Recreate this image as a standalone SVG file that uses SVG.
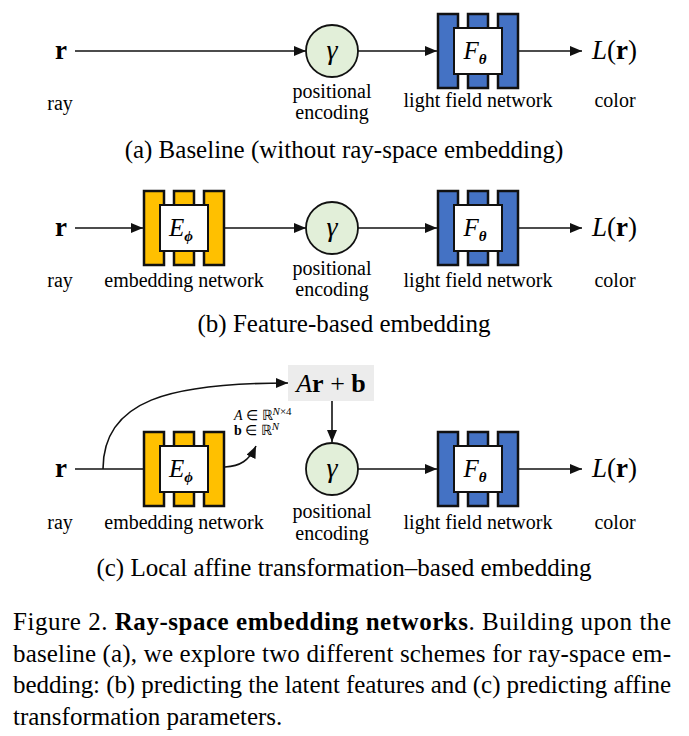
<svg xmlns="http://www.w3.org/2000/svg" width="689" height="736" viewBox="0 0 689 736" font-family="Liberation Serif, serif">
<defs>
<style>
.lab{font-size:20px;text-anchor:middle}
.cap{font-size:25px;text-anchor:middle}
.sym{font-size:27px}
.fig{font-size:25px}
.ln{stroke:#111;stroke-width:1.6;fill:none}
.bar-b{fill:#4472c4;stroke:#111;stroke-width:2.5}
.bar-y{fill:#ffc000;stroke:#111;stroke-width:2.5}
.inner{fill:#fff;stroke:#111;stroke-width:2}
.pe{fill:#e2efd9;stroke:#111;stroke-width:1.8}
</style>
<marker id="ah" viewBox="0 0 12 10" refX="12" refY="5" markerWidth="12" markerHeight="10" markerUnits="userSpaceOnUse" orient="auto">
<path d="M0,0 L12,5 L0,10 Z" fill="#111"/>
</marker>
</defs>
<rect width="689" height="736" fill="#fff"/>

<!-- connectors -->
<g id="connectors">
<line class="ln" x1="75" y1="51" x2="306" y2="51" marker-end="url(#ah)"/>
<line class="ln" x1="358" y1="51" x2="437" y2="51" marker-end="url(#ah)"/>
<line class="ln" x1="518" y1="51" x2="582" y2="51" marker-end="url(#ah)"/>

<line class="ln" x1="75" y1="228" x2="143" y2="228" marker-end="url(#ah)"/>
<line class="ln" x1="224" y1="228" x2="306" y2="228" marker-end="url(#ah)"/>
<line class="ln" x1="358" y1="228" x2="437" y2="228" marker-end="url(#ah)"/>
<line class="ln" x1="518" y1="228" x2="582" y2="228" marker-end="url(#ah)"/>

<line class="ln" x1="75" y1="469" x2="144" y2="469"/>
<path class="ln" d="M103,469 C103,400 170,383 288,383" marker-end="url(#ah)"/>
<path class="ln" d="M225,467 C240,466 249,461 256,446" marker-end="url(#ah)"/>
<line class="ln" x1="332" y1="401" x2="332" y2="442" marker-end="url(#ah)"/>
<line class="ln" x1="358" y1="469" x2="437" y2="469" marker-end="url(#ah)"/>
<line class="ln" x1="518" y1="469" x2="582" y2="469" marker-end="url(#ah)"/>
</g>

<!-- panel a -->
<g id="a-ray">
<text class="sym" x="61" y="59" text-anchor="middle" font-weight="bold">r</text>
<text class="lab" x="60" y="110">ray</text>
</g>
<g id="a-pe">
<circle class="pe" cx="332" cy="51" r="26"/>
<text x="332" y="59" text-anchor="middle" font-size="28" font-style="italic">γ</text>
<text class="lab" x="332" y="98">positional</text>
<text class="lab" x="332" y="119">encoding</text>
</g>
<g id="a-lfn">
<rect class="bar-b" x="438" y="14" width="20" height="74"/>
<rect class="bar-b" x="468" y="14" width="20" height="74"/>
<rect class="bar-b" x="498" y="14" width="20" height="74"/>
<rect class="inner" x="454" y="28" width="48" height="46"/>
<text x="475" y="59" text-anchor="middle" font-size="25" font-style="italic">F<tspan font-size="15" font-weight="bold" dy="5">θ</tspan></text>
<text class="lab" x="478" y="107">light field network</text>
</g>
<g id="a-color">
<text class="sym" x="592" y="59"><tspan font-style="italic">L</tspan>(<tspan font-weight="bold">r</tspan>)</text>
<text class="lab" x="615" y="107">color</text>
</g>
<text class="cap" x="344" y="158">(a) Baseline (without ray-space embedding)</text>

<!-- panel b -->
<g id="b-ray">
<text class="sym" x="61" y="236" text-anchor="middle" font-weight="bold">r</text>
<text class="lab" x="60" y="287">ray</text>
</g>
<g id="b-emb">
<rect class="bar-y" x="144" y="191" width="20" height="74"/>
<rect class="bar-y" x="174" y="191" width="20" height="74"/>
<rect class="bar-y" x="204" y="191" width="20" height="74"/>
<rect class="inner" x="160" y="205" width="48" height="46"/>
<text x="181" y="236" text-anchor="middle" font-size="25" font-style="italic">E<tspan font-size="15" font-weight="bold" font-style="italic" dy="5">ϕ</tspan></text>
<text class="lab" x="184" y="287">embedding network</text>
</g>
<g id="b-pe">
<circle class="pe" cx="332" cy="228" r="26"/>
<text x="332" y="236" text-anchor="middle" font-size="28" font-style="italic">γ</text>
<text class="lab" x="332" y="275">positional</text>
<text class="lab" x="332" y="296">encoding</text>
</g>
<g id="b-lfn">
<rect class="bar-b" x="438" y="191" width="20" height="74"/>
<rect class="bar-b" x="468" y="191" width="20" height="74"/>
<rect class="bar-b" x="498" y="191" width="20" height="74"/>
<rect class="inner" x="454" y="205" width="48" height="46"/>
<text x="475" y="236" text-anchor="middle" font-size="25" font-style="italic">F<tspan font-size="15" font-weight="bold" dy="5">θ</tspan></text>
<text class="lab" x="478" y="287">light field network</text>
</g>
<g id="b-color">
<text class="sym" x="592" y="236"><tspan font-style="italic">L</tspan>(<tspan font-weight="bold">r</tspan>)</text>
<text class="lab" x="615" y="287">color</text>
</g>
<text class="cap" x="344" y="332">(b) Feature-based embedding</text>

<!-- panel c -->
<g id="c-ray">
<text class="sym" x="61" y="477" text-anchor="middle" font-weight="bold">r</text>
<text class="lab" x="60" y="529">ray</text>
</g>
<g id="c-emb">
<rect class="bar-y" x="144" y="432" width="20" height="74"/>
<rect class="bar-y" x="174" y="432" width="20" height="74"/>
<rect class="bar-y" x="204" y="432" width="20" height="74"/>
<rect class="inner" x="160" y="446" width="48" height="46"/>
<text x="181" y="477" text-anchor="middle" font-size="25" font-style="italic">E<tspan font-size="15" font-weight="bold" font-style="italic" dy="5">ϕ</tspan></text>
<text class="lab" x="184" y="529">embedding network</text>
</g>
<g id="c-params">
<text x="234" y="420" font-size="14"><tspan font-style="italic">A</tspan> ∈ ℝ<tspan font-size="11" dy="-5"><tspan font-style="italic">N</tspan>×4</tspan></text>
<text x="234" y="435" font-size="14"><tspan font-weight="bold">b</tspan> ∈ ℝ<tspan font-size="11" dy="-5" font-style="italic">N</tspan></text>
</g>
<g id="c-affine">
<rect x="288" y="365" width="86" height="36" fill="#ececec"/>
<text x="331" y="392" text-anchor="middle" font-size="26"><tspan font-style="italic">A</tspan><tspan font-weight="bold">r</tspan> + <tspan font-weight="bold">b</tspan></text>
</g>
<g id="c-pe">
<circle class="pe" cx="332" cy="469" r="26"/>
<text x="332" y="477" text-anchor="middle" font-size="28" font-style="italic">γ</text>
<text class="lab" x="332" y="518">positional</text>
<text class="lab" x="332" y="540">encoding</text>
</g>
<g id="c-lfn">
<rect class="bar-b" x="438" y="432" width="20" height="74"/>
<rect class="bar-b" x="468" y="432" width="20" height="74"/>
<rect class="bar-b" x="498" y="432" width="20" height="74"/>
<rect class="inner" x="454" y="446" width="48" height="46"/>
<text x="475" y="477" text-anchor="middle" font-size="25" font-style="italic">F<tspan font-size="15" font-weight="bold" dy="5">θ</tspan></text>
<text class="lab" x="478" y="529">light field network</text>
</g>
<g id="c-color">
<text class="sym" x="592" y="477"><tspan font-style="italic">L</tspan>(<tspan font-weight="bold">r</tspan>)</text>
<text class="lab" x="615" y="529">color</text>
</g>
<text class="cap" x="344" y="576">(c) Local affine transformation–based embedding</text>

<!-- figure caption -->
<g id="caption">
<text class="fig" x="13" y="630" textLength="658" lengthAdjust="spacing">Figure 2.  <tspan font-weight="bold">Ray-space embedding networks</tspan>.  Building upon the</text>
<text class="fig" x="13" y="662" textLength="658" lengthAdjust="spacing">baseline (a), we explore two different schemes for ray-space em-</text>
<text class="fig" x="13" y="693" textLength="658" lengthAdjust="spacing">bedding: (b) predicting the latent features and (c) predicting affine</text>
<text class="fig" x="13" y="725">transformation parameters.</text>
</g>
</svg>
